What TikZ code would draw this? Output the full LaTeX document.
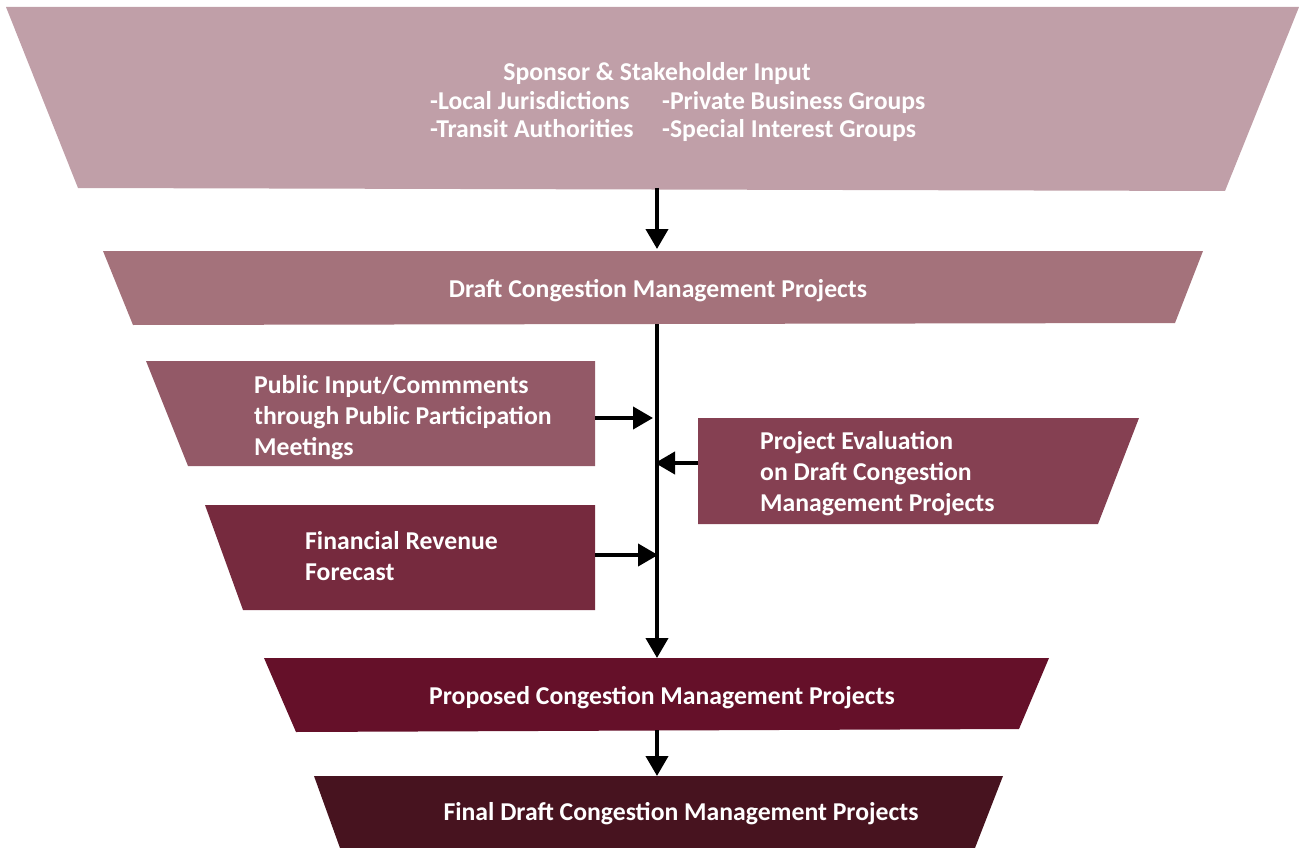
\documentclass[tikz,border=0pt]{standalone}
\usepackage{fontspec}
\setmainfont{Carlito}
\usetikzlibrary{arrows.meta}
\definecolor{cTop}{HTML}{C09FA8}
\definecolor{cDraft}{HTML}{A4727B}
\definecolor{cPublic}{HTML}{935967}
\definecolor{cEval}{HTML}{854052}
\definecolor{cFin}{HTML}{762A3E}
\definecolor{cProp}{HTML}{651029}
\definecolor{cFinal}{HTML}{47131F}
\tikzset{
  lbl/.style={anchor=base west, inner sep=0pt, text=white, font=\fontsize{25.7}{29.5}\selectfont\bfseries},
  clbl/.style={lbl, anchor=base},
  flow/.style={line width=4pt, -{Triangle[width=22pt,length=20pt]}},
}
\begin{document}
\begin{tikzpicture}[x=1pt,y=-1pt]
\useasboundingbox (0,0) rectangle (1299,848);
% shapes
\fill[cTop] (6,7) -- (1299,7) -- (1225,191) -- (78,188) -- cycle;
\fill[cDraft] (103,251) -- (1203,251) -- (1175,323) -- (133,325) -- cycle;
\fill[cPublic] (146,361) -- (595,361) -- (595,466) -- (188,466) -- cycle;
\fill[cEval] (698,418) -- (1139,418) -- (1098,524) -- (698,524) -- cycle;
\fill[cFin] (205,505) -- (595,505) -- (595,610) -- (243,610) -- cycle;
\fill[cProp] (264,658) -- (1049,658) -- (1019,729) -- (296,732) -- cycle;
\fill[cFinal] (314,776) -- (1003,776) -- (975,848) -- (340,848) -- cycle;
% anchor coordinates
\coordinate (topB) at (657,188);
\coordinate (draftT) at (657,249);
\coordinate (draftB) at (657,324);
\coordinate (propT) at (657,658);
\coordinate (propB) at (657,730);
\coordinate (finalT) at (657,776);
\coordinate (pubR) at (595,418);
\coordinate (pubJ) at (653,418);
\coordinate (evalL) at (698,463);
\coordinate (evalJ) at (655,463);
\coordinate (finR) at (595,555);
\coordinate (finJ) at (658,555);
% texts
\node[clbl] (sponsor) at (657,81) {Sponsor \& Stakeholder Input};
\node[lbl] (local) at (430,110) {-Local Jurisdictions};
\node[lbl] (private) at (662,110) {-Private Business Groups};
\node[lbl] (transit) at (430,138) {-Transit Authorities};
\node[lbl] (special) at (662,138) {-Special Interest Groups};
\node[clbl] (draft) at (658,297) {Draft Congestion Management Projects};
\node[lbl] (pub1) at (254,393) {Public Input/Commments};
\node[lbl] (pub2) at (254,424) {through Public Participation};
\node[lbl] (pub3) at (254,455) {Meetings};
\node[lbl] (ev1) at (760,449) {Project Evaluation};
\node[lbl] (ev2) at (760,480) {on Draft Congestion};
\node[lbl] (ev3) at (760,511) {Management Projects};
\node[lbl] (fin1) at (305,549) {Financial Revenue};
\node[lbl] (fin2) at (305,580) {Forecast};
\node[clbl] (prop) at (662,704) {Proposed Congestion Management Projects};
\node[clbl] (final) at (681,820) {Final Draft Congestion Management Projects};
% connectors
\draw[flow] (topB) -- (draftT);
\draw[flow] (draftB) -- (propT);
\draw[flow] (pubR) -- (pubJ);
\draw[flow] (evalL) -- (evalJ);
\draw[flow] (finR) -- (finJ);
\draw[flow] (propB) -- (finalT);
\end{tikzpicture}
\end{document}
